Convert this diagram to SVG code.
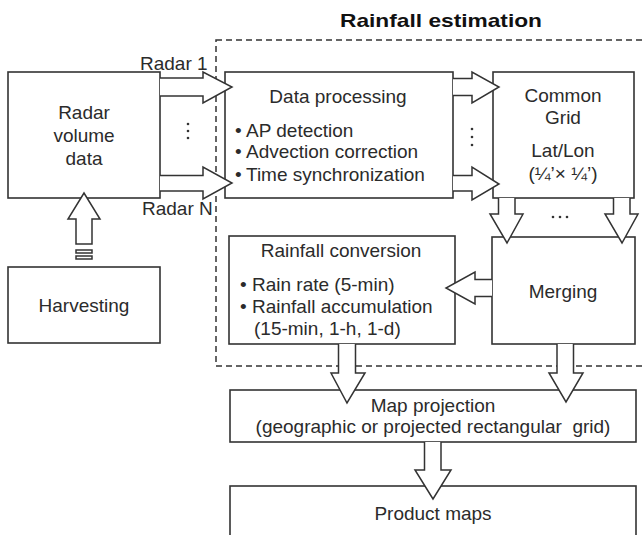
<svg xmlns="http://www.w3.org/2000/svg" width="642" height="535" viewBox="0 0 642 535">
<style>
.box{fill:#fff;stroke:#333;stroke-width:1.6}
.arr{fill:#fff;stroke:#333;stroke-width:1.5;stroke-linejoin:miter}
.dash{fill:none;stroke:#333;stroke-width:1.5;stroke-dasharray:6,4}
text{font-family:"Liberation Sans",Arial,sans-serif;font-size:19px;fill:#2b2b2b}
.c{text-anchor:middle}
.title{font-weight:bold;font-size:19px;fill:#111}
.dot{fill:#333}
</style>
<rect width="642" height="535" fill="#fff"/>
<g id="rainfall-estimation">
<rect class="dash" x="216" y="40" width="440" height="326"/>
<text class="title" x="340" y="27" textLength="202" lengthAdjust="spacingAndGlyphs">Rainfall estimation</text>
</g>
<g id="radar-volume-data">
<rect class="box" x="8" y="72" width="152" height="126"/>
<text class="c" x="84" y="119">Radar</text>
<text class="c" x="84" y="142">volume</text>
<text class="c" x="84" y="165">data</text>
</g>
<g id="harvesting">
<rect class="box" x="8" y="267" width="152" height="76"/>
<text class="c" x="84" y="312">Harvesting</text>
</g>
<g id="data-processing">
<rect class="box" x="225" y="72" width="228" height="126"/>
<text class="c" x="338" y="103">Data processing</text>
<text x="235" y="137">•</text><text x="246" y="137">AP detection</text>
<text x="235" y="158">•</text><text x="246" y="158">Advection correction</text>
<text x="235" y="181">•</text><text x="246" y="181">Time synchronization</text>
</g>
<g id="common-grid">
<rect class="box" x="493" y="72" width="141" height="126"/>
<text class="c" x="563" y="102">Common</text>
<text class="c" x="563" y="124">Grid</text>
<text class="c" x="563" y="157">Lat/Lon</text>
<text class="c" x="563" y="180">(¼’× ¼’)</text>
</g>
<g id="rainfall-conversion">
<rect class="box" x="229" y="236" width="226" height="108"/>
<text class="c" x="341" y="257">Rainfall conversion</text>
<text x="240" y="291">•</text><text x="252" y="291">Rain rate (5-min)</text>
<text x="240" y="313">•</text><text x="252" y="313">Rainfall accumulation</text>
<text x="254" y="335">(15-min, 1-h, 1-d)</text>
</g>
<g id="merging">
<rect class="box" x="492" y="237" width="143" height="107"/>
<text class="c" x="563" y="298">Merging</text>
</g>
<g id="map-projection">
<rect class="box" x="230" y="390" width="406" height="52"/>
<text class="c" x="433" y="412">Map projection</text>
<text class="c" x="433" y="433" xml:space="preserve">(geographic or projected rectangular  grid)</text>
</g>
<g id="product-maps">
<rect class="box" x="230" y="486" width="406" height="60"/>
<text class="c" x="433" y="520">Product maps</text>
</g>
<g id="connectors">
<path class="arr" d="M160,78 H203 V72 L232,87 L203,103 V96 H160"/>
<path class="arr" d="M160,175.5 H203 V167 L232,183 L203,199 V191 H160"/>
<text x="140" y="70">Radar 1</text>
<text x="142" y="215">Radar N</text>
<circle class="dot" cx="188" cy="124" r="1.3"/>
<circle class="dot" cx="188" cy="131" r="1.3"/>
<circle class="dot" cx="188" cy="138" r="1.3"/>
<path class="arr" d="M453,78.5 H472 V72 L499,87 L472,103 V95.5 H453"/>
<path class="arr" d="M453,175.5 H472 V167 L499,184 L472,200 V191 H453"/>
<circle class="dot" cx="472" cy="129" r="1.3"/>
<circle class="dot" cx="472" cy="137" r="1.3"/>
<circle class="dot" cx="472" cy="145" r="1.3"/>
<path class="arr" d="M498.5,198 V214 H490 L507,243 L523,214 H515 V198"/>
<path class="arr" d="M613.5,198 V214 H605 L622,243 L638,214 H630 V198"/>
<circle class="dot" cx="553" cy="217" r="1.3"/>
<circle class="dot" cx="560" cy="217" r="1.3"/>
<circle class="dot" cx="567" cy="217" r="1.3"/>
<path class="arr" d="M492,279.5 H475 V272 L446,288 L475,304 V296.5 H492"/>
<path class="arr" d="M338.5,344 V373 H331 L347,403 L365,373 H355.5 V344"/>
<path class="arr" d="M557,344 V373 H549 L566,402 L583,373 H573.5 V344"/>
<path class="arr" d="M424.5,442 V470 H415 L433,499 L451,470 H441 V442"/>
<path class="arr" d="M76,244 V219 H68 L84,193 L100,219 H92 V244 Z"/>
<rect class="arr" x="76" y="250" width="16" height="3"/>
<rect class="arr" x="76" y="256" width="16" height="3"/>
</g>
</svg>
